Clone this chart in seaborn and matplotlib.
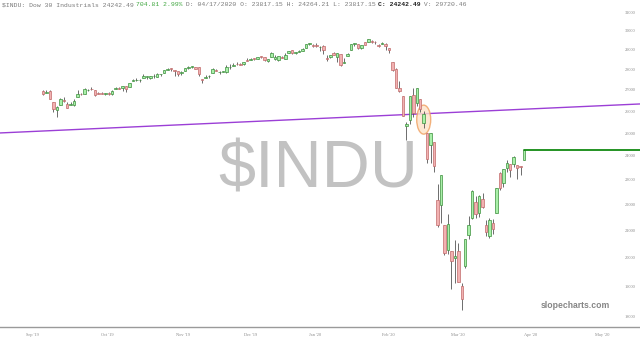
import numpy as np
import pandas as pd
import matplotlib
matplotlib.use("Agg")
import matplotlib.pyplot as plt
import seaborn as sns
from matplotlib.patches import Ellipse
from matplotlib.ticker import FixedLocator, FixedFormatter, NullLocator
import matplotlib.transforms as mtransforms

# ---------------- data (Dow 30 daily OHLC, Sep 27 2019 - Apr 17 2020) ----------------
holidays = ["2019-11-28", "2019-12-25", "2020-01-01", "2020-01-20", "2020-02-17", "2020-04-10"]
dates = [d for d in pd.bdate_range("2019-09-27", "2020-04-17") if d.strftime("%Y-%m-%d") not in holidays]

opens = [26965, 26852,
         26962, 26425, 26039, 26271, 26542, 26347, 26289, 26305, 26652, 26788, 26827, 26991, 27064, 26983, 26872, 26865, 26784, 26862, 26786, 27029, 27076, 27086, 27176,
         27129, 27420, 27488, 27465, 27560, 27637, 27607, 27677, 27636, 27757, 27843, 27995, 28071, 28000, 27951, 27812, 27931, 28082, 28141, 28118,
         28109, 27554, 27603, 27665, 27855, 27999, 27878, 27883, 27897, 28123, 28191, 28279, 28287, 28263, 28493, 28492, 28573, 28539, 28675, 28654, 28415,
         28638, 28553, 28465, 28639, 28556, 28851, 29000, 28823, 28883, 28940, 29110, 29313, 29242, 29264, 29140, 29225, 28597, 28623, 28820, 28640, 28813,
         28319, 28697, 28998, 29319, 29286, 29093, 29390, 29406, 29444, 29440, 29279, 29317, 29324, 29125, 28402, 28033, 27099, 26720, 25320,
         25591, 26762, 26383, 26553, 25457, 24992, 24453, 24604, 22184, 21973, 21229, 20303, 20253, 19990, 20254, 19028, 19722, 20845, 21468, 22089, 21678, 22208,
         21227, 20819, 21285, 21693, 23294, 22859, 23491, 23665, 23650, 23624, 23574, 23817]
highs = [27018, 26998,
         26999, 26425, 26235, 26611, 26677, 26444, 26436, 26586, 27006, 26847, 27089, 27025, 27149, 27002, 26912, 26925, 26847, 26888, 26998, 27123, 27160, 27197, 27176,
         27347, 27514, 27573, 27524, 27775, 27697, 27692, 27781, 27828, 27801, 28005, 28089, 28091, 28004, 27951, 27918, 28100, 28160, 28175, 28118,
         28110, 27554, 27717, 27711, 28056, 28025, 27946, 27925, 28224, 28290, 28337, 28376, 28348, 28377, 28582, 28582, 28573, 28621, 28701, 28654, 28547,
         28872, 28716, 28708, 28686, 28866, 28967, 29010, 28908, 29010, 29126, 29298, 29374, 29330, 29373, 29191, 29273, 28730, 28761, 28892, 28864, 28813,
         28592, 28847, 29294, 29380, 29286, 29276, 29416, 29568, 29530, 29442, 29332, 29409, 29371, 29126, 28402, 28097, 27430, 26720, 25517,
         26706, 27084, 27091, 26553, 25994, 24992, 25020, 24604, 22837, 23186, 21229, 21651, 20253, 20651, 20531, 19121, 20705, 21566, 22596, 22327, 22378, 22480,
         21423, 21479, 21447, 22680, 23328, 23449, 23819, 23665, 24009, 23624, 23575, 24264]
lows = [26747, 26852,
        26568, 25974, 25744, 26271, 26449, 26164, 26269, 26253, 26652, 26739, 26827, 26954, 26980, 26706, 26803, 26788, 26749, 26737, 26773, 27029, 27043, 26964, 26917,
        27129, 27420, 27440, 27397, 27560, 27523, 27549, 27604, 27636, 27684, 27843, 27956, 27934, 27689, 27707, 27751, 27931, 28054, 28083, 28024,
        27701, 27325, 27603, 27592, 27855, 27908, 27801, 27862, 27849, 28028, 28191, 28231, 28239, 28246, 28430, 28483, 28491, 28517, 28609, 28410, 28377,
        28627, 28500, 28418, 28565, 28522, 28851, 28789, 28767, 28877, 28940, 29110, 29242, 29131, 29170, 28957, 28793, 28441, 28565, 28735, 28404, 28169,
        28319, 28697, 28998, 29212, 29068, 29041, 29235, 29406, 29368, 29285, 29160, 29317, 29003, 28867, 27920, 27080, 26916, 25757, 24681,
        25391, 25706, 26260, 25941, 25226, 23707, 23690, 23328, 21154, 21285, 20116, 20150, 18917, 19133, 19145, 18214, 19649, 20676, 21426, 21469, 21522, 21863,
        20784, 20736, 20863, 21693, 22597, 22709, 23324, 23125, 23527, 23045, 23186, 23817]
closes = [26820, 26917,
          26573, 26078, 26201, 26573, 26478, 26164, 26347, 26497, 26817, 26787, 27024, 27002, 27026, 26770, 26828, 26788, 26834, 26806, 26958, 27091, 27071, 27186, 27046,
          27347, 27462, 27492, 27493, 27675, 27681, 27691, 27691, 27784, 27782, 28005, 28036, 28053, 27934, 27767, 27876, 28067, 28122, 28164, 28051,
          27783, 27503, 27650, 27678, 28015, 27910, 27882, 27911, 28133, 28135, 28236, 28268, 28240, 28377, 28455, 28551, 28515, 28621, 28645, 28462, 28538,
          28869, 28634, 28703, 28584, 28745, 28957, 28824, 28907, 28940, 29030, 29298, 29348, 29196, 29186, 29160, 28990, 28536, 28723, 28734, 28860, 28256,
          28400, 28808, 29290, 29380, 29103, 29276, 29276, 29551, 29424, 29398, 29232, 29348, 29219, 28992, 27961, 27081, 26957, 25766, 25409,
          26703, 25917, 27091, 26121, 25865, 23851, 25018, 23553, 21200, 23186, 20189, 21237, 19899, 20087, 19174, 18592, 20705, 21200, 22552, 21637, 22327, 21917,
          20944, 21413, 21053, 22680, 22654, 23434, 23719, 23390, 23949, 23504, 23538, 24242.49]

assert len(dates) == len(opens) == len(highs) == len(lows) == len(closes), (len(dates), len(opens), len(highs), len(lows), len(closes))

price_ticks = [18000, 19000, 20000, 21000, 22000, 23000, 24000, 25000, 26000, 27000, 28000, 29000, 30000, 31000]
month_labels = ["Sep '19", "Oct '19", "Nov '19", "Dec '19", "Jan '20", "Feb '20", "Mar '20", "Apr '20", "May '20"]
month_pos = [-3.2, 18.5, 40.5, 60.1, 78.6, 99.7, 120.0, 140.8, 161.6]   # trading-day index of each label

trend_x = [-12.43, 172.5]          # purple trend line
trend_y = [25005, 26334]
last_close = 24242.49
circled_day = "2020-03-06"

header_parts = [("$INDU: Dow 30 Industrials 24242.49 ", "#7a7a7a", "normal"),
                ("704.81 2.99%", "#3fa63f", "normal"),
                (" D: 04/17/2020 O: 23817.15 H: 24264.21 L: 23817.15 ", "#7a7a7a", "normal"),
                ("C: 24242.49", "#222222", "bold"),
                (" V: 29720.46", "#7a7a7a", "normal")]

# ---------------- figure ----------------
sns.set_theme(style="white")
plt.rcParams["font.family"] = ["Liberation Sans", "DejaVu Sans"]

W, H = 640, 342
fig = plt.figure(figsize=(W / 100, H / 100), dpi=100)
fig.patch.set_facecolor("white")
ax = fig.add_axes([0, 15 / H, 1, 327 / H])
ax.set_facecolor("white")

df = pd.DataFrame({"date": dates, "open": opens, "high": highs, "low": lows, "close": closes})
df["x"] = np.arange(len(df))
up = df["close"] >= df["open"]

# wicks
ax.vlines(df["x"], df["low"], df["high"], color="#555555", linewidth=0.6, zorder=2)
# bodies
body_bottom = np.minimum(df["open"], df["close"])
body_h = np.abs(df["close"] - df["open"])
ax.bar(df["x"][up], body_h[up], bottom=body_bottom[up], width=0.72,
       color="#a9f0a9", edgecolor="#3d8f3d", linewidth=0.5, zorder=3)
ax.bar(df["x"][~up], body_h[~up], bottom=body_bottom[~up], width=0.72,
       color="#f2b1b1", edgecolor="#c06a6a", linewidth=0.5, zorder=3)

# trend line
sns.lineplot(x=trend_x, y=trend_y, ax=ax, color="#9b3fd6", linewidth=1.0, zorder=1)
# last close line
last_x = df["x"].iloc[-1]
sns.lineplot(x=[last_x, trend_x[1]], y=[last_close, last_close], ax=ax,
             color="#138a13", linewidth=1.3, zorder=4)

ax.set_yscale("log")
ax.set_ylim(17681, 31707)
ax.set_xlim(trend_x[0], trend_x[1])

# circled candle
ci = int(df.index[df["date"] == pd.Timestamp(circled_day)][0])
cy = np.sqrt(df["high"][ci] * df["low"][ci])
tr = fig.dpi_scale_trans + mtransforms.ScaledTranslation(df["x"][ci], cy, ax.transData)
ell = Ellipse((0, 0), width=0.14, height=0.29, transform=tr,
              facecolor="#fde3c8", edgecolor="#f0a060", linewidth=1.0, alpha=0.8, zorder=1.5)
ax.add_patch(ell)

# axes styling
for s in ["top", "left", "right"]:
    ax.spines[s].set_visible(False)
ax.spines["bottom"].set_color("#9a9a9a")
ax.spines["bottom"].set_linewidth(1.0)

ax.yaxis.set_major_locator(FixedLocator(price_ticks))
ax.yaxis.set_major_formatter(FixedFormatter([str(t) for t in price_ticks]))
ax.yaxis.set_minor_locator(NullLocator())
ax.yaxis.tick_right()
ax.tick_params(axis="y", length=0, pad=-11, labelsize=3.2, labelcolor="#8a8a8a")
for lab in ax.get_yticklabels():
    lab.set_family("Liberation Serif")

ax.set_xticks(month_pos)
ax.set_xticklabels(month_labels)
ax.tick_params(axis="x", length=0, pad=4, labelsize=3.2, labelcolor="#8a8a8a")
for lab in ax.get_xticklabels():
    lab.set_family("Liberation Serif")
ax.set_xlabel("")
ax.set_ylabel("")
ax.grid(False)

# watermark
fig.text(318 / W, 1 - 188 / H, "$INDU", ha="center", va="baseline", fontsize=48,
         color="#c2c2c2", family="Liberation Sans", zorder=0)
# site label
fig.text(575 / W, 1 - 306 / H, "slopecharts.com", ha="center", va="center", fontsize=6.2,
         fontweight="bold", color="#858585", family="Liberation Sans")

# header
hfs = 4.6
char_px = 0.6 * hfs * 100 / 72
col = 0
for txt, colr, wt in header_parts:
    fig.text((2 + col * char_px) / W, 1 - 5 / H, txt, ha="left", va="center", fontsize=hfs,
             color=colr, fontweight=wt, family="Liberation Mono")
    col += len(txt)

fig.savefig("out.png", dpi=100, facecolor="white")
